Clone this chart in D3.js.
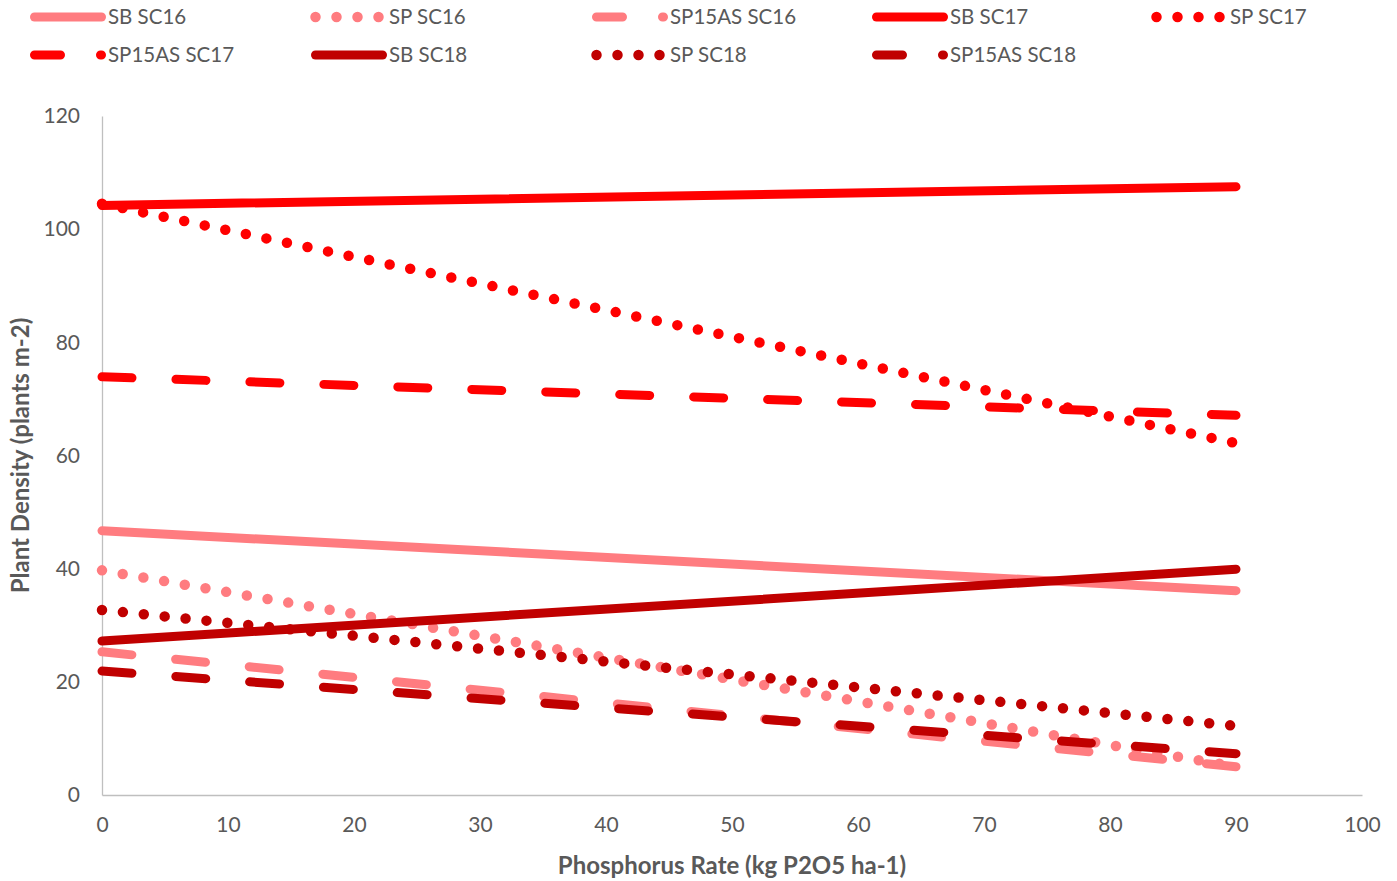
<!DOCTYPE html>
<html><head><meta charset="utf-8">
<script src="https://cdn.jsdelivr.net/npm/d3@7"></script>
<style>body{margin:0;background:#fff}svg{display:block}text{font-family:Lato,"Open Sans",sans-serif}</style>
</head><body><svg id="c" width="1397" height="881"></svg>
<script>
// Data
const xRates = [0, 90];
const seriesNames = ["SB SC16","SP SC16","SP15AS SC16","SB SC17","SP SC17","SP15AS SC17","SB SC18","SP SC18","SP15AS SC18"];
const sbSC16 = [46.7, 36.1];
const spSC16 = [39.7, 5.0];
const sp15asSC16 = [25.3, 5.0];
const sbSC17 = [104.2, 107.5];
const spSC17 = [104.5, 62.2];
const sp15asSC17 = [73.9, 67.1];
const sbSC18 = [27.2, 39.9];
const spSC18 = [32.7, 12.2];
const sp15asSC18 = [21.9, 7.3];
const xTicks = [0,10,20,30,40,50,60,70,80,90,100];
const yTicks = [0,20,40,60,80,100,120];

const allValues = [sbSC16, spSC16, sp15asSC16, sbSC17, spSC17, sp15asSC17, sbSC18, spSC18, sp15asSC18];
const colors = {SC16:"#FF7C80", SC17:"#FF0000", SC18:"#C00000"};
const series = seriesNames.map((n,i)=>({
  name:n, vals:allValues[i],
  color: colors[n.split(" ")[1]],
  kind: n.startsWith("SB") ? "solid" : (n.startsWith("SP15AS") ? "dash" : "dot")
}));

const svg = d3.select("#c");
const L=102, R=1362, T=116, B=795;
const x = d3.scaleLinear().domain([0,100]).range([L,R]);
const y = d3.scaleLinear().domain([0,120]).range([B,T]);
const SW = 9;
const widths = {solid:9, dot:10.5, dash:9};
const dashArr = {solid:null, dot:"0,21", dash:"30,44"};
const legDash = {solid:null, dot:"0,21", dash:"26,40"};

// axes
const gx = svg.append("g").attr("transform",`translate(0,${B})`)
  .call(d3.axisBottom(x).tickValues(xTicks).tickSize(0).tickPadding(22));
gx.select(".domain").attr("stroke","#bfbfbf").attr("stroke-width",1.3);
gx.selectAll("text").attr("font-size",21).attr("fill","#595959");
const gy = svg.append("g").attr("transform",`translate(${L},0)`)
  .call(d3.axisLeft(y).tickValues(yTicks).tickSize(0).tickPadding(22));
gy.select(".domain").attr("stroke","#bfbfbf").attr("stroke-width",1.3);
gy.selectAll("text").attr("font-size",21).attr("fill","#595959");

// lines
const line = d3.line().x((d,i)=>x(xRates[i])).y(d=>y(d));
series.forEach(s=>{
  svg.append("path").attr("d",line(s.vals)).attr("fill","none")
    .attr("stroke",s.color).attr("stroke-width",widths[s.kind]).attr("stroke-linecap","round")
    .attr("stroke-dasharray",dashArr[s.kind]);
});

// titles
svg.append("text").attr("x",732).attr("y",874).attr("text-anchor","middle")
  .attr("font-size",24).attr("font-weight","bold").attr("fill","#595959")
  .text("Phosphorus Rate (kg P2O5 ha-1)");
svg.append("text").attr("transform",`translate(29,${(T+B)/2}) rotate(-90)`).attr("text-anchor","middle")
  .attr("font-size",24).attr("font-weight","bold").attr("fill","#595959")
  .text("Plant Density (plants m-2)");

// legend
const colX = [30,311,592,872,1152];
const rowY = [17,55];
series.forEach((s,i)=>{
  const cx = colX[i%5], cy = rowY[Math.floor(i/5)];
  svg.append("line").attr("x1",cx+4.5).attr("x2",cx+71.5).attr("y1",cy).attr("y2",cy)
    .attr("stroke",s.color).attr("stroke-width",widths[s.kind]).attr("stroke-linecap","round")
    .attr("stroke-dasharray",legDash[s.kind]);
  svg.append("text").attr("x",cx+78).attr("y",cy).attr("dy","0.35em")
    .attr("font-size",20.5).attr("fill","#595959").text(s.name);
});
</script></body></html>
